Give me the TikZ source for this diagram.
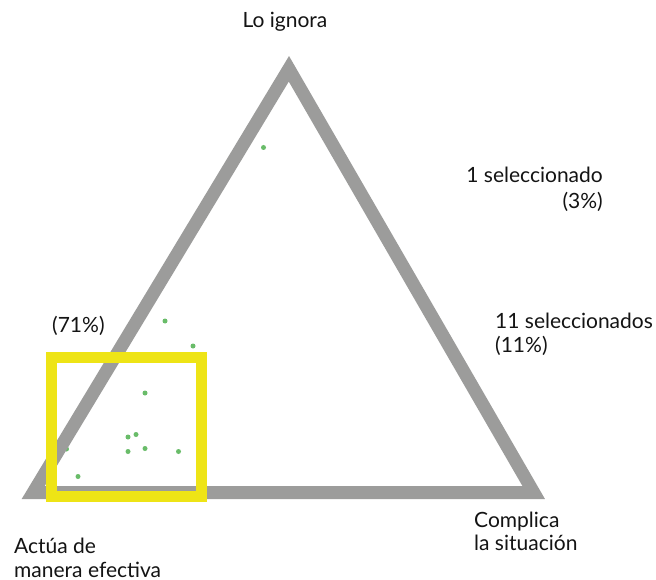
\documentclass[tikz,border=0pt]{standalone}
\usepackage{fontspec}
\setmainfont{Lato}
\definecolor{trigray}{RGB}{156,156,155}
\definecolor{boxyellow}{RGB}{238,228,22}
\definecolor{dotgreen}{RGB}{105,188,105}
\begin{document}
\begin{tikzpicture}[x=1pt,y=-1pt,
  lbl/.style={inner sep=0pt,font=\fontsize{21}{25}\selectfont,text=black!92},
  dot/.style={circle,fill=dotgreen,inner sep=0pt,minimum size=5pt}]
\useasboundingbox[fill=white] (0,0) rectangle (656,580);
% data points
\foreach \px/\py [count=\i] in {263.5/147.5,165/321,193/346,145/393,128/437,136/434.5,128/451.5,145/448.5,178.5/451.5,78/476.5,66.5/449}
  \node[dot] (d\i) at (\px,\py) {};
% triangle
\coordinate (L) at (33.2,492.5);
\coordinate (R) at (533.7,492.5);
\coordinate (T) at (288.9,68.8);
\draw[trigray,line width=13pt,miter limit=10] (L) -- (R) -- (T) -- cycle;
% highlight box
\node[draw=boxyellow,line width=11pt,minimum width=150pt,minimum height=139.5pt,inner sep=0pt] (hbox) at (126.5,426.75) {};
% labels
\node[lbl,anchor=base] (top) at (285,28) {Lo ignora};
\node[lbl,anchor=base east] (s1a) at (603,183) {1 seleccionado};
\node[lbl,anchor=base east] (s1b) at (603,209) {(3\%)};
\node[lbl,anchor=base west] (s2a) at (495,328) {11 seleccionados};
\node[lbl,anchor=base west] (s2b) at (495,352) {(11\%)};
\node[lbl,anchor=base west] (p71) at (52,332) {(71\%)};
\node[lbl,anchor=base west] (bl1) at (14,553) {Actúa de};
\node[lbl,anchor=base west] (bl2) at (14,577) {manera efectiva};
\node[lbl,anchor=base west] (br1) at (474,527) {Complica};
\node[lbl,anchor=base west] (br2) at (474,550) {la situación};
\end{tikzpicture}
\end{document}
